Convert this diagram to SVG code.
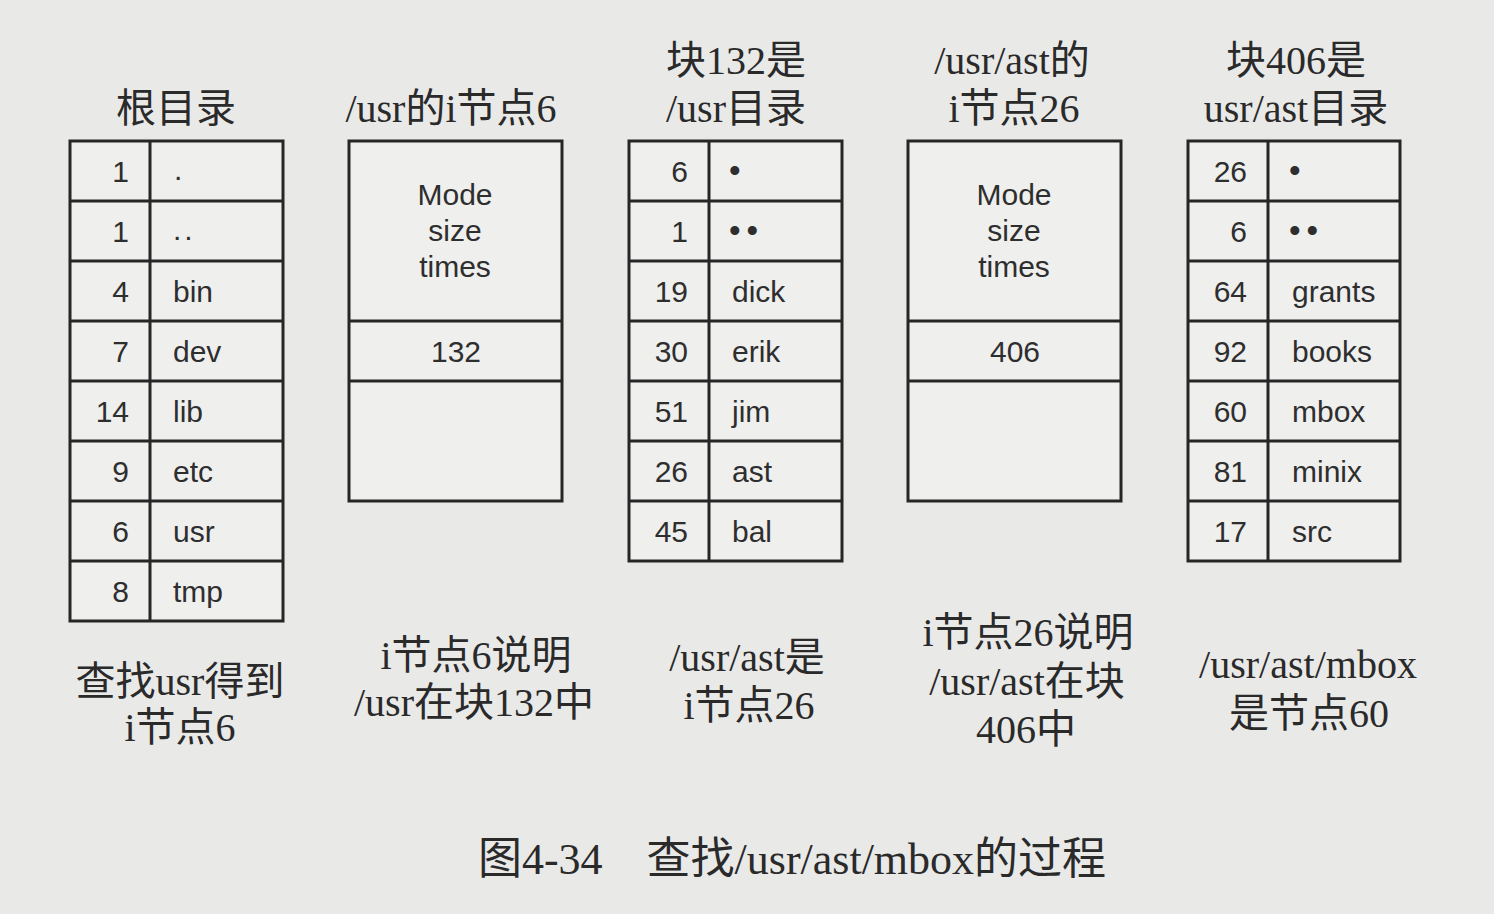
<svg xmlns="http://www.w3.org/2000/svg" width="1494" height="914" viewBox="0 0 1494 914">
<style>
.bg{fill:#e9e9e8}
.box{fill:#efefee;stroke:#262626;stroke-width:3}
.ln{stroke:#262626;stroke-width:3}
.t{font-family:"Liberation Sans",Arial,sans-serif;font-size:30px;fill:#2e2e2e}
.b{font-size:33px}
.n{text-anchor:end}
.c{text-anchor:middle}
.cap{font-family:"Liberation Serif","Noto Sans CJK SC",serif;font-size:40px;fill:#2a2a2a;text-anchor:middle}
.fig{font-family:"Liberation Serif","Noto Sans CJK SC",serif;font-size:44px;fill:#2a2a2a;text-anchor:middle}
</style>
<rect class="bg" x="0" y="0" width="1494" height="914"/>

<g id="root-dir">
<text class="cap" x="176" y="122">根目录</text>
<rect class="box" x="70" y="141" width="213" height="480"/>
<line class="ln" x1="150" y1="141" x2="150" y2="621"/>
<line class="ln" x1="70" y1="201" x2="283" y2="201"/>
<line class="ln" x1="70" y1="261" x2="283" y2="261"/>
<line class="ln" x1="70" y1="321" x2="283" y2="321"/>
<line class="ln" x1="70" y1="381" x2="283" y2="381"/>
<line class="ln" x1="70" y1="441" x2="283" y2="441"/>
<line class="ln" x1="70" y1="501" x2="283" y2="501"/>
<line class="ln" x1="70" y1="561" x2="283" y2="561"/>
<text class="t n" x="129" y="182">1</text><text class="t" x="174" y="180">.</text>
<text class="t n" x="129" y="242">1</text><text class="t" x="173" y="240" letter-spacing="3">..</text>
<text class="t n" x="129" y="302">4</text><text class="t" x="173" y="302">bin</text>
<text class="t n" x="129" y="362">7</text><text class="t" x="173" y="362">dev</text>
<text class="t n" x="129" y="422">14</text><text class="t" x="173" y="422">lib</text>
<text class="t n" x="129" y="482">9</text><text class="t" x="173" y="482">etc</text>
<text class="t n" x="129" y="542">6</text><text class="t" x="173" y="542">usr</text>
<text class="t n" x="129" y="602">8</text><text class="t" x="173" y="602">tmp</text>
<text class="cap" x="180" y="695">查找usr得到</text>
<text class="cap" x="180" y="741">i节点6</text>
</g>

<g id="usr-inode">
<text class="cap" x="451" y="122">/usr的i节点6</text>
<rect class="box" x="349" y="141" width="213" height="360"/>
<line class="ln" x1="349" y1="321" x2="562" y2="321"/>
<line class="ln" x1="349" y1="381" x2="562" y2="381"/>
<text class="t c" x="455" y="205">Mode</text>
<text class="t c" x="455" y="241">size</text>
<text class="t c" x="455" y="277">times</text>
<text class="t c" x="456" y="362">132</text>
<text class="cap" x="476" y="669">i节点6说明</text>
<text class="cap" x="474" y="716">/usr在块132中</text>
</g>

<g id="usr-dir">
<text class="cap" x="736" y="74">块132是</text>
<text class="cap" x="736" y="122">/usr目录</text>
<rect class="box" x="629" y="141" width="213" height="420"/>
<line class="ln" x1="709" y1="141" x2="709" y2="561"/>
<line class="ln" x1="629" y1="201" x2="842" y2="201"/>
<line class="ln" x1="629" y1="261" x2="842" y2="261"/>
<line class="ln" x1="629" y1="321" x2="842" y2="321"/>
<line class="ln" x1="629" y1="381" x2="842" y2="381"/>
<line class="ln" x1="629" y1="441" x2="842" y2="441"/>
<line class="ln" x1="629" y1="501" x2="842" y2="501"/>
<text class="t n" x="688" y="182">6</text><text class="t b" x="729" y="182">•</text>
<text class="t n" x="688" y="242">1</text><text class="t b" x="729" y="242" letter-spacing="6">••</text>
<text class="t n" x="688" y="302">19</text><text class="t" x="732" y="302">dick</text>
<text class="t n" x="688" y="362">30</text><text class="t" x="732" y="362">erik</text>
<text class="t n" x="688" y="422">51</text><text class="t" x="732" y="422">jim</text>
<text class="t n" x="688" y="482">26</text><text class="t" x="732" y="482">ast</text>
<text class="t n" x="688" y="542">45</text><text class="t" x="732" y="542">bal</text>
<text class="cap" x="747" y="671">/usr/ast是</text>
<text class="cap" x="749" y="719">i节点26</text>
</g>

<g id="ast-inode">
<text class="cap" x="1012" y="74">/usr/ast的</text>
<text class="cap" x="1014" y="122">i节点26</text>
<rect class="box" x="908" y="141" width="213" height="360"/>
<line class="ln" x1="908" y1="321" x2="1121" y2="321"/>
<line class="ln" x1="908" y1="381" x2="1121" y2="381"/>
<text class="t c" x="1014" y="205">Mode</text>
<text class="t c" x="1014" y="241">size</text>
<text class="t c" x="1014" y="277">times</text>
<text class="t c" x="1015" y="362">406</text>
<text class="cap" x="1028" y="646">i节点26说明</text>
<text class="cap" x="1027" y="695">/usr/ast在块</text>
<text class="cap" x="1026" y="743">406中</text>
</g>

<g id="ast-dir">
<text class="cap" x="1296" y="74">块406是</text>
<text class="cap" x="1296" y="122">usr/ast目录</text>
<rect class="box" x="1188" y="141" width="212" height="420"/>
<line class="ln" x1="1268" y1="141" x2="1268" y2="561"/>
<line class="ln" x1="1188" y1="201" x2="1400" y2="201"/>
<line class="ln" x1="1188" y1="261" x2="1400" y2="261"/>
<line class="ln" x1="1188" y1="321" x2="1400" y2="321"/>
<line class="ln" x1="1188" y1="381" x2="1400" y2="381"/>
<line class="ln" x1="1188" y1="441" x2="1400" y2="441"/>
<line class="ln" x1="1188" y1="501" x2="1400" y2="501"/>
<text class="t n" x="1247" y="182">26</text><text class="t b" x="1289" y="182">•</text>
<text class="t n" x="1247" y="242">6</text><text class="t b" x="1289" y="242" letter-spacing="6">••</text>
<text class="t n" x="1247" y="302">64</text><text class="t" x="1292" y="302">grants</text>
<text class="t n" x="1247" y="362">92</text><text class="t" x="1292" y="362">books</text>
<text class="t n" x="1247" y="422">60</text><text class="t" x="1292" y="422">mbox</text>
<text class="t n" x="1247" y="482">81</text><text class="t" x="1292" y="482">minix</text>
<text class="t n" x="1247" y="542">17</text><text class="t" x="1292" y="542">src</text>
<text class="cap" x="1308" y="678">/usr/ast/mbox</text>
<text class="cap" x="1309" y="727">是节点60</text>
</g>

<text class="fig" x="792" y="874">图4-34　查找/usr/ast/mbox的过程</text>
</svg>
